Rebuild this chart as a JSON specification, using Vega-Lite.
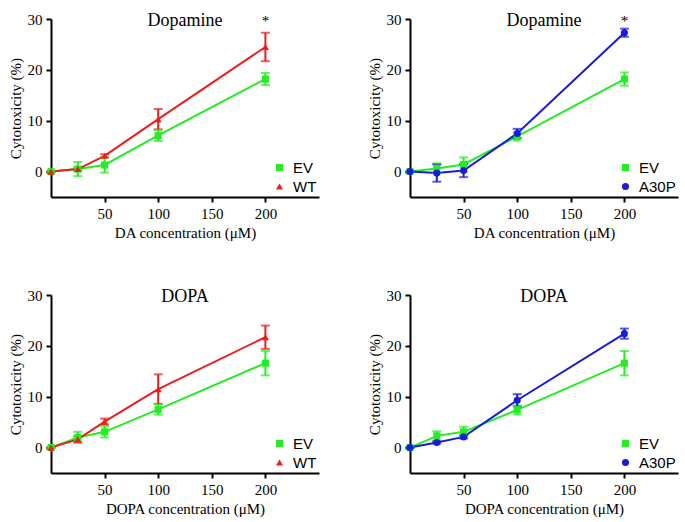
{
  "$schema": "https://vega.github.io/schema/vega-lite/v6.json",
  "background": "white",
  "padding": {"left": 8, "top": 12, "right": 5, "bottom": 5},
  "datasets": {
    "main": [
      {"panel": "DA_WT", "group": "EV", "conc": 0, "y": 0, "lo": 0, "hi": 0},
      {"panel": "DA_WT", "group": "EV", "conc": 25, "y": 0.5, "lo": -0.9, "hi": 1.9},
      {"panel": "DA_WT", "group": "EV", "conc": 50, "y": 1.3, "lo": -0.2, "hi": 2.8},
      {"panel": "DA_WT", "group": "EV", "conc": 100, "y": 7.1, "lo": 6.0, "hi": 8.2},
      {"panel": "DA_WT", "group": "EV", "conc": 200, "y": 18.2, "lo": 17.0, "hi": 19.4},
      {"panel": "DA_WT", "group": "WT", "conc": 0, "y": 0, "lo": 0, "hi": 0},
      {"panel": "DA_WT", "group": "WT", "conc": 25, "y": 0.5, "lo": 0.2, "hi": 0.8},
      {"panel": "DA_WT", "group": "WT", "conc": 50, "y": 3.1, "lo": 2.8, "hi": 3.4},
      {"panel": "DA_WT", "group": "WT", "conc": 100, "y": 10.3, "lo": 8.3, "hi": 12.3},
      {"panel": "DA_WT", "group": "WT", "conc": 200, "y": 24.5, "lo": 21.7, "hi": 27.3},
      {"panel": "DA_A30P", "group": "EV", "conc": 0, "y": 0, "lo": 0, "hi": 0},
      {"panel": "DA_A30P", "group": "EV", "conc": 25, "y": 0.6, "lo": -0.4, "hi": 1.6},
      {"panel": "DA_A30P", "group": "EV", "conc": 50, "y": 1.4, "lo": 0.0, "hi": 2.8},
      {"panel": "DA_A30P", "group": "EV", "conc": 100, "y": 6.9, "lo": 6.1, "hi": 7.7},
      {"panel": "DA_A30P", "group": "EV", "conc": 200, "y": 18.2, "lo": 16.9, "hi": 19.5},
      {"panel": "DA_A30P", "group": "A30P", "conc": 0, "y": 0, "lo": 0, "hi": 0},
      {"panel": "DA_A30P", "group": "A30P", "conc": 25, "y": -0.3, "lo": -2.0, "hi": 1.4},
      {"panel": "DA_A30P", "group": "A30P", "conc": 50, "y": 0.2, "lo": -1.1, "hi": 1.5},
      {"panel": "DA_A30P", "group": "A30P", "conc": 100, "y": 7.5, "lo": 6.6, "hi": 8.4},
      {"panel": "DA_A30P", "group": "A30P", "conc": 200, "y": 27.3, "lo": 26.5, "hi": 28.1},
      {"panel": "DOPA_WT", "group": "EV", "conc": 0, "y": 0, "lo": 0, "hi": 0},
      {"panel": "DOPA_WT", "group": "EV", "conc": 25, "y": 2.0, "lo": 1.0, "hi": 3.1},
      {"panel": "DOPA_WT", "group": "EV", "conc": 50, "y": 3.1, "lo": 2.0, "hi": 4.2},
      {"panel": "DOPA_WT", "group": "EV", "conc": 100, "y": 7.5, "lo": 6.5, "hi": 8.5},
      {"panel": "DOPA_WT", "group": "EV", "conc": 200, "y": 16.6, "lo": 14.2, "hi": 19.0},
      {"panel": "DOPA_WT", "group": "WT", "conc": 0, "y": 0, "lo": 0, "hi": 0},
      {"panel": "DOPA_WT", "group": "WT", "conc": 25, "y": 1.6, "lo": 1.0, "hi": 2.2},
      {"panel": "DOPA_WT", "group": "WT", "conc": 50, "y": 5.1, "lo": 4.5, "hi": 5.7},
      {"panel": "DOPA_WT", "group": "WT", "conc": 100, "y": 11.5, "lo": 8.6, "hi": 14.4},
      {"panel": "DOPA_WT", "group": "WT", "conc": 200, "y": 21.7, "lo": 19.4, "hi": 24.0},
      {"panel": "DOPA_A30P", "group": "EV", "conc": 0, "y": 0, "lo": 0, "hi": 0},
      {"panel": "DOPA_A30P", "group": "EV", "conc": 25, "y": 2.3, "lo": 1.4, "hi": 3.2},
      {"panel": "DOPA_A30P", "group": "EV", "conc": 50, "y": 3.1, "lo": 2.1, "hi": 4.1},
      {"panel": "DOPA_A30P", "group": "EV", "conc": 100, "y": 7.4, "lo": 6.5, "hi": 8.3},
      {"panel": "DOPA_A30P", "group": "EV", "conc": 200, "y": 16.6, "lo": 14.2, "hi": 19.0},
      {"panel": "DOPA_A30P", "group": "A30P", "conc": 0, "y": 0, "lo": 0, "hi": 0},
      {"panel": "DOPA_A30P", "group": "A30P", "conc": 25, "y": 1.0, "lo": 0.8, "hi": 1.2},
      {"panel": "DOPA_A30P", "group": "A30P", "conc": 50, "y": 2.1, "lo": 1.8, "hi": 2.4},
      {"panel": "DOPA_A30P", "group": "A30P", "conc": 100, "y": 9.3, "lo": 8.1, "hi": 10.5},
      {"panel": "DOPA_A30P", "group": "A30P", "conc": 200, "y": 22.4, "lo": 21.4, "hi": 23.4}
    ],
    "stars": [
      {"panel": "DA_WT", "conc": 200, "y": 28.6, "label": "*"},
      {"panel": "DA_A30P", "conc": 200, "y": 28.6, "label": "*"}
    ]
  },
  "config": {
    "view": {"stroke": null},
    "font": "Liberation Serif",
    "axis": {
      "grid": false,
      "domainColor": "black",
      "domainWidth": 2,
      "tickColor": "black",
      "tickWidth": 2,
      "tickSize": 5,
      "labelFont": "Liberation Serif",
      "labelFontSize": 15,
      "labelColor": "black",
      "labelPadding": 4,
      "titleFont": "Liberation Serif",
      "titleFontSize": 15,
      "titleFontWeight": "normal",
      "titleColor": "black",
      "titlePadding": 4
    },
    "title": {
      "font": "Liberation Serif",
      "fontSize": 18,
      "fontWeight": "normal",
      "color": "black",
      "anchor": "middle",
      "offset": -18
    },
    "legend": {
      "orient": "bottom-right",
      "offset": 2,
      "padding": 0,
      "title": null,
      "labelFont": "Liberation Sans",
      "labelFontSize": 15,
      "labelColor": "black",
      "symbolSize": 50,
      "symbolStrokeWidth": 0,
      "symbolOpacity": 1,
      "rowPadding": 3,
      "labelOffset": 6
    }
  },
  "resolve": {
    "scale": {"color": "independent", "shape": "independent", "x": "independent", "y": "independent"},
    "legend": {"color": "independent", "shape": "independent"}
  },
  "columns": 2,
  "spacing": {"row": 48, "column": 48},
  "concat": [
    {
      "width": 268, "height": 178,
      "title": {"text": "Dopamine"},
      "layer": [
        {"data": {"name": "main"}, "transform": [{"filter": "datum.panel === 'DA_WT'"}],
         "mark": {"type": "line", "strokeWidth": 2},
         "encoding": {
           "x": {"field": "conc", "type": "quantitative", "title": "DA concentration (μM)", "scale": {"domain": [0, 250], "nice": false}, "axis": {"values": [50, 100, 150, 200]}},
           "y": {"field": "y", "type": "quantitative", "title": "Cytotoxicity (%)", "scale": {"domain": [-5, 30], "nice": false}, "axis": {"values": [0, 10, 20, 30]}},
           "color": {"field": "group", "type": "nominal", "scale": {"domain": ["EV", "WT"], "range": ["#22ee22", "#ee1c1c"]}}
         }},
        {"data": {"name": "main"}, "transform": [{"filter": "datum.panel === 'DA_WT'"}],
         "mark": {"type": "errorbar", "ticks": {"size": 9}, "thickness": 2},
         "encoding": {
           "x": {"field": "conc", "type": "quantitative", "title": "DA concentration (μM)"},
           "y": {"field": "lo", "type": "quantitative", "title": "Cytotoxicity (%)"},
           "y2": {"field": "hi"},
           "color": {"field": "group", "type": "nominal"}
         }},
        {"data": {"name": "main"}, "transform": [{"filter": "datum.panel === 'DA_WT'"}],
         "mark": {"type": "point", "filled": true, "size": 50, "opacity": 1},
         "encoding": {
           "x": {"field": "conc", "type": "quantitative", "title": "DA concentration (μM)"},
           "y": {"field": "y", "type": "quantitative", "title": "Cytotoxicity (%)"},
           "color": {"field": "group", "type": "nominal"},
           "shape": {"field": "group", "type": "nominal", "scale": {"domain": ["EV", "WT"], "range": ["square", "triangle-up"]}}
         }},
        {"data": {"name": "stars"}, "transform": [{"filter": "datum.panel === 'DA_WT'"}],
         "mark": {"type": "text", "font": "Liberation Serif", "fontSize": 15, "color": "black", "baseline": "alphabetic"},
         "encoding": {
           "x": {"field": "conc", "type": "quantitative", "title": "DA concentration (μM)"},
           "y": {"field": "y", "type": "quantitative", "title": "Cytotoxicity (%)"},
           "text": {"field": "label"}
         }}
      ]
    },
    {
      "width": 268, "height": 178,
      "title": {"text": "Dopamine"},
      "layer": [
        {"data": {"name": "main"}, "transform": [{"filter": "datum.panel === 'DA_A30P'"}],
         "mark": {"type": "line", "strokeWidth": 2},
         "encoding": {
           "x": {"field": "conc", "type": "quantitative", "title": "DA concentration (μM)", "scale": {"domain": [0, 250], "nice": false}, "axis": {"values": [50, 100, 150, 200]}},
           "y": {"field": "y", "type": "quantitative", "title": "Cytotoxicity (%)", "scale": {"domain": [-5, 30], "nice": false}, "axis": {"values": [0, 10, 20, 30]}},
           "color": {"field": "group", "type": "nominal", "scale": {"domain": ["EV", "A30P"], "range": ["#22ee22", "#1a1add"]}}
         }},
        {"data": {"name": "main"}, "transform": [{"filter": "datum.panel === 'DA_A30P'"}],
         "mark": {"type": "errorbar", "ticks": {"size": 9}, "thickness": 2},
         "encoding": {
           "x": {"field": "conc", "type": "quantitative", "title": "DA concentration (μM)"},
           "y": {"field": "lo", "type": "quantitative", "title": "Cytotoxicity (%)"},
           "y2": {"field": "hi"},
           "color": {"field": "group", "type": "nominal"}
         }},
        {"data": {"name": "main"}, "transform": [{"filter": "datum.panel === 'DA_A30P'"}],
         "mark": {"type": "point", "filled": true, "size": 50, "opacity": 1},
         "encoding": {
           "x": {"field": "conc", "type": "quantitative", "title": "DA concentration (μM)"},
           "y": {"field": "y", "type": "quantitative", "title": "Cytotoxicity (%)"},
           "color": {"field": "group", "type": "nominal"},
           "shape": {"field": "group", "type": "nominal", "scale": {"domain": ["EV", "A30P"], "range": ["square", "circle"]}}
         }},
        {"data": {"name": "stars"}, "transform": [{"filter": "datum.panel === 'DA_A30P'"}],
         "mark": {"type": "text", "font": "Liberation Serif", "fontSize": 15, "color": "black", "baseline": "alphabetic"},
         "encoding": {
           "x": {"field": "conc", "type": "quantitative", "title": "DA concentration (μM)"},
           "y": {"field": "y", "type": "quantitative", "title": "Cytotoxicity (%)"},
           "text": {"field": "label"}
         }}
      ]
    },
    {
      "width": 268, "height": 178,
      "title": {"text": "DOPA"},
      "layer": [
        {"data": {"name": "main"}, "transform": [{"filter": "datum.panel === 'DOPA_WT'"}],
         "mark": {"type": "line", "strokeWidth": 2},
         "encoding": {
           "x": {"field": "conc", "type": "quantitative", "title": "DOPA concentration (μM)", "scale": {"domain": [0, 250], "nice": false}, "axis": {"values": [50, 100, 150, 200]}},
           "y": {"field": "y", "type": "quantitative", "title": "Cytotoxicity (%)", "scale": {"domain": [-5, 30], "nice": false}, "axis": {"values": [0, 10, 20, 30]}},
           "color": {"field": "group", "type": "nominal", "scale": {"domain": ["EV", "WT"], "range": ["#22ee22", "#ee1c1c"]}}
         }},
        {"data": {"name": "main"}, "transform": [{"filter": "datum.panel === 'DOPA_WT'"}],
         "mark": {"type": "errorbar", "ticks": {"size": 9}, "thickness": 2},
         "encoding": {
           "x": {"field": "conc", "type": "quantitative", "title": "DOPA concentration (μM)"},
           "y": {"field": "lo", "type": "quantitative", "title": "Cytotoxicity (%)"},
           "y2": {"field": "hi"},
           "color": {"field": "group", "type": "nominal"}
         }},
        {"data": {"name": "main"}, "transform": [{"filter": "datum.panel === 'DOPA_WT'"}],
         "mark": {"type": "point", "filled": true, "size": 50, "opacity": 1},
         "encoding": {
           "x": {"field": "conc", "type": "quantitative", "title": "DOPA concentration (μM)"},
           "y": {"field": "y", "type": "quantitative", "title": "Cytotoxicity (%)"},
           "color": {"field": "group", "type": "nominal"},
           "shape": {"field": "group", "type": "nominal", "scale": {"domain": ["EV", "WT"], "range": ["square", "triangle-up"]}}
         }}
      ]
    },
    {
      "width": 268, "height": 178,
      "title": {"text": "DOPA"},
      "layer": [
        {"data": {"name": "main"}, "transform": [{"filter": "datum.panel === 'DOPA_A30P'"}],
         "mark": {"type": "line", "strokeWidth": 2},
         "encoding": {
           "x": {"field": "conc", "type": "quantitative", "title": "DOPA concentration (μM)", "scale": {"domain": [0, 250], "nice": false}, "axis": {"values": [50, 100, 150, 200]}},
           "y": {"field": "y", "type": "quantitative", "title": "Cytotoxicity (%)", "scale": {"domain": [-5, 30], "nice": false}, "axis": {"values": [0, 10, 20, 30]}},
           "color": {"field": "group", "type": "nominal", "scale": {"domain": ["EV", "A30P"], "range": ["#22ee22", "#1a1add"]}}
         }},
        {"data": {"name": "main"}, "transform": [{"filter": "datum.panel === 'DOPA_A30P'"}],
         "mark": {"type": "errorbar", "ticks": {"size": 9}, "thickness": 2},
         "encoding": {
           "x": {"field": "conc", "type": "quantitative", "title": "DOPA concentration (μM)"},
           "y": {"field": "lo", "type": "quantitative", "title": "Cytotoxicity (%)"},
           "y2": {"field": "hi"},
           "color": {"field": "group", "type": "nominal"}
         }},
        {"data": {"name": "main"}, "transform": [{"filter": "datum.panel === 'DOPA_A30P'"}],
         "mark": {"type": "point", "filled": true, "size": 50, "opacity": 1},
         "encoding": {
           "x": {"field": "conc", "type": "quantitative", "title": "DOPA concentration (μM)"},
           "y": {"field": "y", "type": "quantitative", "title": "Cytotoxicity (%)"},
           "color": {"field": "group", "type": "nominal"},
           "shape": {"field": "group", "type": "nominal", "scale": {"domain": ["EV", "A30P"], "range": ["square", "circle"]}}
         }}
      ]
    }
  ]
}
